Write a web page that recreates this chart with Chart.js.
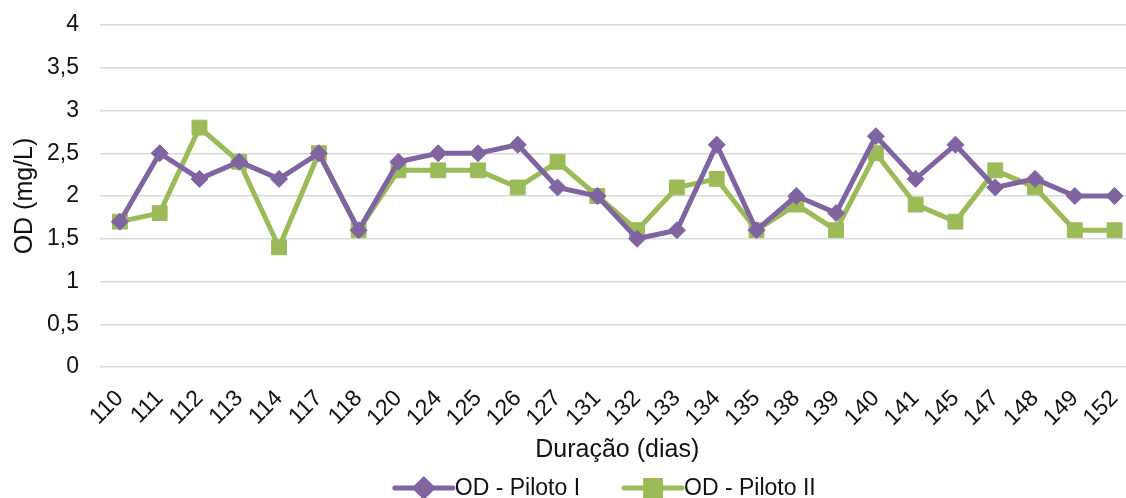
<!DOCTYPE html>
<html><head><meta charset="utf-8">
<script src="https://cdn.jsdelivr.net/npm/chart.js@4/dist/chart.umd.min.js"></script>
<style>html,body{margin:0;padding:0;overflow:hidden;background:#fff;width:1126px;height:498px}canvas{display:block}</style>
</head><body><canvas id="c" width="1146" height="498"></canvas>
<script>
const categories = ['110','111','112','113','114','117','118','120','124','125','126','127','131','132','133','134','135','138','139','140','141','145','147','148','149','152'];
const pilotoI  = [1.7,2.5,2.2,2.4,2.2,2.5,1.6,2.4,2.5,2.5,2.6,2.1,2.0,1.5,1.6,2.6,1.6,2.0,1.8,2.7,2.2,2.6,2.1,2.2,2.0,2.0];
const pilotoII = [1.7,1.8,2.8,2.4,1.4,2.5,1.6,2.3,2.3,2.3,2.1,2.4,2.0,1.6,2.1,2.2,1.6,1.9,1.6,2.5,1.9,1.7,2.3,2.1,1.6,1.6];
const seriesNames = ['OD - Piloto I','OD - Piloto II'];
const yMin = 0, yMax = 4, yStep = 0.5;
const xTitle = 'Duração (dias)';
const yTitle = 'OD (mg/L)';

const FONT = "'Liberation Sans', Arial, sans-serif";
const TXT = '#111111';
const PURPLE = '#8064A2', GREEN = '#9BBB59';

const legendPlugin = {
  id: 'customLegend',
  afterDraw(chart) {
    const ctx = chart.ctx;
    const ca = chart.chartArea;
    ctx.save();
    ctx.font = '23px ' + FONT;
    ctx.textBaseline = 'middle';
    const lineLen = 58, gapText = 2, itemGap = 44;
    const items = chart.data.datasets.map(ds => ({ds, w: lineLen + gapText + ctx.measureText(ds.label).width}));
    const total = items.reduce((s, it) => s + it.w, 0) + itemGap * (items.length - 1);
    let x = (ca.left + ca.right) / 2 - 12 - total / 2;
    const y = 488;
    items.forEach(it => {
      const ds = it.ds;
      ctx.strokeStyle = ds.borderColor;
      ctx.lineWidth = ds.borderWidth;
      ctx.lineCap = 'round';
      ctx.beginPath(); ctx.moveTo(x, y); ctx.lineTo(x + lineLen, y); ctx.stroke();
      Chart.helpers.drawPoint(ctx, {pointStyle: ds.pointStyle, radius: ds.pointRadius, borderWidth: 1, rotation: 0}, x + lineLen / 2, y);
      ctx.fillStyle = ds.pointBackgroundColor;
      ctx.fill();
      ctx.fillStyle = TXT;
      ctx.fillText(ds.label, x + lineLen + gapText, y + 1);
      x += it.w + itemGap;
    });
    ctx.restore();
  }
};

new Chart(document.getElementById('c'), {
  type: 'line',
  data: {
    labels: categories,
    datasets: [
      {label: seriesNames[0], data: pilotoI, borderColor: PURPLE, backgroundColor: PURPLE, pointBackgroundColor: PURPLE, pointBorderColor: PURPLE,
       borderWidth: 5, pointStyle: 'rectRot', pointRadius: 8.5, pointBorderWidth: 1, tension: 0},
      {label: seriesNames[1], data: pilotoII, borderColor: GREEN, backgroundColor: GREEN, pointBackgroundColor: GREEN, pointBorderColor: GREEN,
       borderWidth: 5, pointStyle: 'rect', pointRadius: 10.5, pointBorderWidth: 1, tension: 0}
    ]
  },
  options: {
    responsive: false,
    animation: false,
    layout: {padding: {top: 25, right: 10, left: 0, bottom: 0}},
    plugins: {legend: {display: false}, tooltip: {enabled: false}},
    scales: {
      x: {
        offset: true,
        grid: {display: false, drawTicks: true, tickLength: 14},
        border: {display: false},
        ticks: {color: TXT, font: {family: FONT, size: 23}, maxRotation: 45, minRotation: 45, autoSkip: false, padding: 4},
        title: {display: true, text: xTitle, color: TXT, font: {family: FONT, size: 25}, padding: {top: 0, bottom: 33}},
        afterFit(s) { s.height = 131; }
      },
      y: {
        min: yMin, max: yMax,
        grid: {color: '#d9d9d9', lineWidth: 1.5, drawTicks: true, tickLength: 17, tickColor: 'rgba(0,0,0,0)'},
        border: {display: false},
        ticks: {stepSize: yStep, color: TXT, font: {family: FONT, size: 23}, padding: 4,
                callback: v => String(v).replace('.', ',')},
        title: {display: true, text: yTitle, color: TXT, font: {family: FONT, size: 25}, padding: {top: 10, bottom: 0}},
        afterFit(s) { s.width = 100; }
      }
    }
  },
  plugins: [legendPlugin]
});
</script>
</body></html>
